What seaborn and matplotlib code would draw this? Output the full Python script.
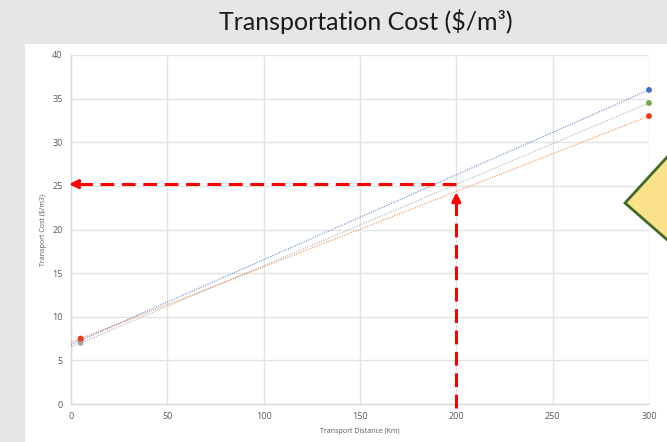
import numpy as np
import pandas as pd
import matplotlib
matplotlib.use("Agg")
import matplotlib.pyplot as plt
from matplotlib.patches import Rectangle, Polygon
import seaborn as sns

# Transport distance (km) and cost ($/m3) for three haul options
distance = [5, 300]
cost_blue = [7.3, 36.0]
cost_gray = [7.0, 34.5]
cost_red = [7.5, 33.0]

x_ticks = [0, 50, 100, 150, 200, 250, 300]
y_ticks = [0, 5, 10, 15, 20, 25, 30, 35, 40]

read_distance = 200
read_cost = 25.2

series = [
    ("A", cost_blue, "#4472C4", ["#4472C4", "#4472C4"]),
    ("B", cost_gray, "#A5A5A5", ["#A5A5A5", "#70AD47"]),
    ("C", cost_red, "#ED7D31", ["#F23A16", "#F23A16"]),
]

sns.set_theme(style="white")
plt.rcParams["font.family"] = ["Open Sans", "DejaVu Sans"]

W, H = 667, 442
fig = plt.figure(figsize=(W / 100, H / 100), dpi=100)
fig.patch.set_facecolor("#E6E6E6")

# white chart panel, in figure pixels
fig.patches.append(Rectangle((25 / W, 0), 1, 1 - 44 / H, transform=fig.transFigure,
                             facecolor="white", edgecolor="none", zorder=-10))

ax = fig.add_axes([71 / W, 1 - 404 / H, (649 - 71) / W, (404 - 55) / H])
ax.set_facecolor("white")

# dotted linear trendlines across the full axis
xs = np.array([0, 300])
for name, ys, lc, mcs in series:
    k, b = np.polyfit(distance, ys, 1)
    fit = pd.DataFrame({"d": xs, "c": k * xs + b})
    sns.lineplot(data=fit, x="d", y="c", ax=ax, color=lc, linestyle=(0, (1, 1.2)),
                 linewidth=0.8, alpha=0.85, zorder=3)

for name, ys, lc, mcs in series:
    pts = pd.DataFrame({"d": distance, "c": ys, "m": mcs})
    sns.scatterplot(data=pts, x="d", y="c", hue="m", palette={c: c for c in set(mcs)},
                    legend=False, ax=ax, s=18, edgecolor="none", zorder=4,
                    clip_on=False)

ax.set_xlim(0, 300)
ax.set_ylim(0, 40)
ax.set_xticks(x_ticks)
ax.set_yticks(y_ticks)
ax.grid(True, color="#E3E3E3", linewidth=1.0)
ax.tick_params(axis="both", labelsize=6.5, colors="#595959", length=0, pad=6)
for s in ["top", "right"]:
    ax.spines[s].set_visible(False)
for s in ["left", "bottom"]:
    ax.spines[s].set_color("#D9D9D9")
    ax.spines[s].set_linewidth(1.0)
ax.set_xlabel("Transport Distance (Km)", fontsize=5, color="#595959", labelpad=5)
ax.set_ylabel("Transport Cost ($/m3)", fontsize=5, color="#595959", labelpad=4)

# red dashed reading guides
red = "#FF0000"
ax.plot([read_distance, 3], [read_cost, read_cost], color=red, linewidth=2.2,
        dashes=(4.5, 2.5), clip_on=False, zorder=5)
ax.annotate("", xy=(-2.5, read_cost), xytext=(4, read_cost),
            arrowprops=dict(arrowstyle="-|>,head_length=0.45,head_width=0.22",
                            color=red, lw=2.0), annotation_clip=False, zorder=5)
ax.plot([read_distance, read_distance], [-0.5, 23.5], color=red, linewidth=2.2,
        dashes=(4.5, 2.5), clip_on=False, zorder=5)
ax.annotate("", xy=(read_distance, 24.6), xytext=(read_distance, 22.8),
            arrowprops=dict(arrowstyle="-|>,head_length=0.45,head_width=0.22",
                            color=red, lw=2.0), annotation_clip=False, zorder=5)

# yellow callout shape on the right edge
poly = [(625, 203), (680, 143), (735, 203), (680, 251)]
poly = [(px / W, 1 - py / H) for px, py in poly]
fig.patches.append(Polygon(poly, closed=True, transform=fig.transFigure,
                           facecolor="#FBE28A", edgecolor="#3F6B28", linewidth=2.0,
                           zorder=10))

fig.text(366 / W, 1 - 22 / H, "Transportation Cost ($/m³)", ha="center", va="center",
         fontsize=18, color="#1A1A1A", fontfamily=["Lato", "DejaVu Sans"])

fig.savefig("out.png", dpi=100, facecolor=fig.get_facecolor())
